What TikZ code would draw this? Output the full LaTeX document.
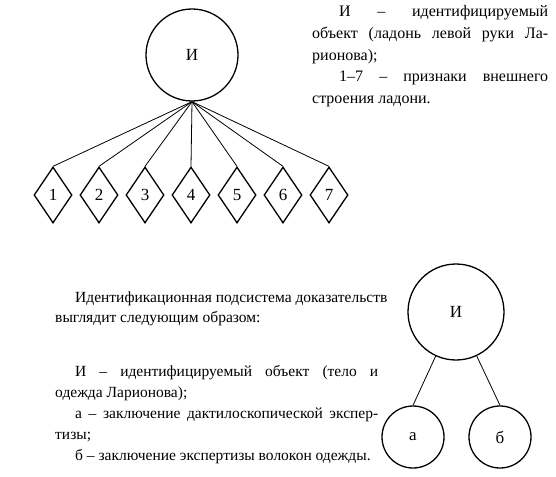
\documentclass[tikz,border=0pt]{standalone}
\usepackage{fontspec}
\setmainfont{Liberation Serif}
\usetikzlibrary{shapes.geometric}
\begin{document}
\begin{tikzpicture}[x=1pt,y=-1pt,
  every node/.style={font=\fontsize{17}{20}\selectfont},
  circ/.style={circle,draw,line width=1.3pt,inner sep=0pt},
  dia/.style={diamond,draw,line width=1.3pt,inner sep=0pt,minimum width=38pt,minimum height=56pt},
  conn/.style={line width=0.8pt},
  toptxt/.style={inner sep=0pt,anchor=base west,font=\fontsize{16}{20}\selectfont},
  bottxt/.style={inner sep=0pt,anchor=base west,font=\fontsize{15.5}{20}\selectfont}]
\useasboundingbox (0,0) rectangle (556,476);
% top diagram
\node[circ,minimum size=92pt] (I) at (192,55) {И};
\foreach \i in {1,...,7} \node[dia] (d\i) at ({53+46*(\i-1)},195) {\i};
\foreach \i in {1,...,7} \draw[conn] (I.south) -- (d\i.north);
\node[toptxt] (t1) at (339,17) {\makebox[209pt][s]{И – идентифицируемый}};
\node[toptxt] (t2) at (312,39) {\makebox[236pt][s]{объект (ладонь левой руки Ла-}};
\node[toptxt] (t3) at (312,61) {рионова);};
\node[toptxt] (t4) at (339,82) {\makebox[209pt][s]{1–7 – признаки внешнего}};
\node[toptxt] (t5) at (312,103) {строения ладони.};
% bottom diagram
\node[bottxt] (b1) at (75,302) {Идентификационная подсистема доказательств};
\node[bottxt] (b2) at (55,322) {выглядит следующим образом:};
\node[bottxt] (b3) at (75,376) {\makebox[303pt][s]{И – идентифицируемый объект (тело и}};
\node[bottxt] (b4) at (55,397) {одежда Ларионова);};
\node[bottxt] (b5) at (75,418) {\makebox[303pt][s]{а – заключение дактилоскопической экспер-}};
\node[bottxt] (b6) at (55,439) {тизы;};
\node[bottxt] (b7) at (75,460) {б – заключение экспертизы волокон одежды.};
\node[circ,minimum size=96pt] (J) at (456,312) {И};
\node[circ,minimum size=62pt] (a) at (413,437) {а};
\node[circ,minimum size=62pt] (b) at (500,437) {б};
\draw[conn] (J) -- (a.north);
\draw[conn] (J) -- (b.north);
\end{tikzpicture}
\end{document}
